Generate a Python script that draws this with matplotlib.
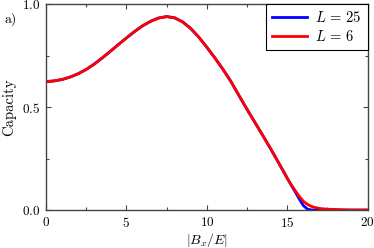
import matplotlib
matplotlib.use("Agg")
import matplotlib.pyplot as plt
from matplotlib.ticker import MultipleLocator

plt.rcParams['mathtext.fontset'] = 'cm'
plt.rcParams['font.family'] = 'serif'
plt.rcParams['font.serif'] = ['cmr10', 'DejaVu Serif']
plt.rcParams['axes.formatter.use_mathtext'] = True

# field values |B_x/E|
bx = [0, 0.5, 1, 1.5, 2, 2.5, 3, 3.5, 4, 4.5, 5, 5.5, 6, 6.5, 7, 7.5,
      8, 8.5, 9, 9.5, 10, 10.5, 11, 11.5, 12, 12.5, 13, 13.5, 14, 14.5,
      15, 15.25, 15.5, 15.75, 16, 16.25, 16.5, 16.75, 17, 17.25, 17.5,
      18, 18.5, 19, 19.5, 20]

cap_L6 = [0.625, 0.628, 0.635, 0.647, 0.663, 0.684, 0.710, 0.740, 0.772,
          0.805, 0.837, 0.868, 0.896, 0.918, 0.934, 0.941, 0.935, 0.915,
          0.883, 0.841, 0.792, 0.740, 0.685, 0.625, 0.557, 0.490, 0.425,
          0.360, 0.294, 0.225, 0.155, 0.123, 0.094, 0.066, 0.043, 0.028,
          0.018, 0.012, 0.008, 0.006, 0.004, 0.003, 0.001, 0.0, 0.0, 0.0]

cap_L25 = [0.625, 0.628, 0.635, 0.647, 0.663, 0.684, 0.710, 0.740, 0.772,
           0.805, 0.837, 0.868, 0.896, 0.918, 0.934, 0.941, 0.935, 0.915,
           0.883, 0.841, 0.792, 0.740, 0.685, 0.625, 0.557, 0.490, 0.425,
           0.360, 0.294, 0.225, 0.155, 0.121, 0.088, 0.054, 0.022, 0.005,
           0.0005, 0.0, 0.0, 0.0, 0.0, 0.0, 0.0, 0.0, 0.0, 0.0]

fig = plt.figure(figsize=(3.74, 2.48), dpi=100)
ax = fig.add_axes([0.123, 0.153, 0.860, 0.829])

ax.plot(bx, cap_L25, color='blue', lw=2.0, label=r'$L\,=\,25$')
ax.plot(bx, cap_L6, color='red', lw=2.0, label=r'$L\,=\,6$')

ax.set_xlim(0, 20)
ax.set_ylim(0, 1)
ax.xaxis.set_major_locator(MultipleLocator(5))
ax.xaxis.set_minor_locator(MultipleLocator(2.5))
ax.yaxis.set_major_locator(MultipleLocator(0.5))
ax.yaxis.set_minor_locator(MultipleLocator(0.25))
ax.tick_params(which='both', direction='in', top=True, right=True,
               labelsize=9.5, color='#444444', pad=4)
ax.tick_params(which='major', length=3.5, width=0.8)
ax.tick_params(which='minor', length=2, width=0.8)
for s in ax.spines.values():
    s.set_color('#444444')
    s.set_linewidth(1.0)

ax.set_xlabel('$|B_x/E|$', fontsize=10, labelpad=1)
ax.set_ylabel('Capacity', fontsize=10.5, labelpad=4)

leg = ax.legend(loc='upper right', fontsize=10.5, fancybox=False,
                edgecolor='black', framealpha=1, borderaxespad=0,
                handlelength=2.4, handletextpad=0.6, borderpad=0.4,
                labelspacing=0.25)
leg.get_frame().set_linewidth(0.8)

fig.text(0.012, 0.91, 'a)', fontsize=10)

fig.savefig('out.png', dpi=100)
